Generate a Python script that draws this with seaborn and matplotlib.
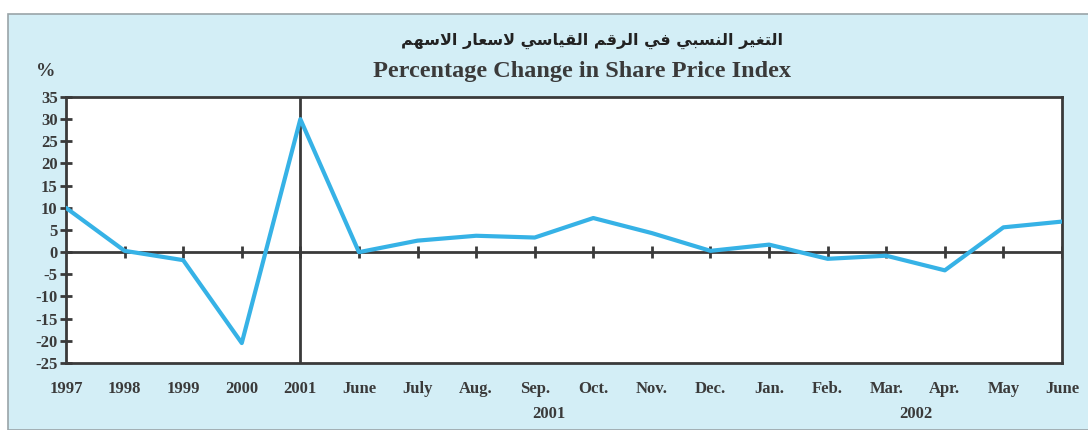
# %% Percentage change in share price index
import matplotlib
matplotlib.use('Agg')
import matplotlib.pyplot as plt
import matplotlib.transforms as mtransforms
from matplotlib.patches import Rectangle
import pandas as pd
import seaborn as sns

# %%
# Values
periods = ['1997', '1998', '1999', '2000', '2001', 'June', 'July', 'Aug.', 'Sep.',
           'Oct.', 'Nov.', 'Dec.', 'Jan.', 'Feb.', 'Mar.', 'Apr.', 'May', 'June']
pct_change = [10, 0.3, -1.8, -20.5, 30, 0, 2.6, 3.7, 3.3,
              7.7, 4.3, 0.3, 1.7, -1.5, -0.8, -4.1, 5.6, 6.9]
y_ticks = list(range(-25, 40, 5))
year_groups = ['2001', '2002']
year_group_pos = [8.25, 14.5]

title_en = 'Percentage Change in Share Price Index'
title_ar = 'التغير النسبي في الرقم القياسي لاسعار الاسهم'

df = pd.DataFrame({'idx': range(len(periods)), 'pct': pct_change})


# %%
# matplotlib has no arabic shaping, so pick presentation forms by hand
FORMS = {
    'ا': ('\uFE8D', '\uFE8E'),
    'ر': ('\uFEAD', '\uFEAE'),
    'ب': ('\uFE8F', '\uFE90', '\uFE91', '\uFE92'),
    'ت': ('\uFE95', '\uFE96', '\uFE97', '\uFE98'),
    'س': ('\uFEB1', '\uFEB2', '\uFEB3', '\uFEB4'),
    'ع': ('\uFEC9', '\uFECA', '\uFECB', '\uFECC'),
    'غ': ('\uFECD', '\uFECE', '\uFECF', '\uFED0'),
    'ف': ('\uFED1', '\uFED2', '\uFED3', '\uFED4'),
    'ق': ('\uFED5', '\uFED6', '\uFED7', '\uFED8'),
    'ل': ('\uFEDD', '\uFEDE', '\uFEDF', '\uFEE0'),
    'م': ('\uFEE1', '\uFEE2', '\uFEE3', '\uFEE4'),
    'ن': ('\uFEE5', '\uFEE6', '\uFEE7', '\uFEE8'),
    'ه': ('\uFEE9', '\uFEEA', '\uFEEB', '\uFEEC'),
    'ي': ('\uFEF1', '\uFEF2', '\uFEF3', '\uFEF4'),
}
LAM_ALEF = ('\uFEFB', '\uFEFC')


def dual(ch):
    return ch in FORMS and len(FORMS[ch]) == 4


def shape_word(word):
    out = []
    i = 0
    while i < len(word):
        ch = word[i]
        prev_joins = i > 0 and dual(word[i - 1])
        if ch == 'ل' and i + 1 < len(word) and word[i + 1] == 'ا':
            out.append(LAM_ALEF[1] if prev_joins else LAM_ALEF[0])
            i += 2
            continue
        forms = FORMS.get(ch)
        if forms is None:
            out.append(ch)
            i += 1
            continue
        next_joins = dual(ch) and i + 1 < len(word) and word[i + 1] in FORMS
        if prev_joins and next_joins:
            out.append(forms[3])
        elif next_joins:
            out.append(forms[2])
        elif prev_joins:
            out.append(forms[1])
        else:
            out.append(forms[0])
        i += 1
    return ''.join(out)


def shape_arabic(text):
    return ' '.join(shape_word(w) for w in text.split(' '))[::-1]


# %%
sns.set_style('white')
plt.rcParams['font.family'] = ['Liberation Serif', 'DejaVu Sans']

dark = '#3a3a3a'
panel = '#d3eef6'
line_col = '#36b2e6'

fig = plt.figure(figsize=(10.88, 4.30), dpi=100)
fig.patch.set_facecolor('white')
fig.patches.append(Rectangle((8 / 1088, 0), 1.0, 1 - 14 / 430, transform=fig.transFigure,
                             facecolor=panel, edgecolor='#9aa4a8', linewidth=1.2, zorder=-5))

ax = fig.add_axes([66 / 1088, 1 - 363 / 430, 996 / 1088, 266 / 430])
ax.set_zorder(2)
ax.set_facecolor('white')

sns.lineplot(data=df, x='idx', y='pct', color=line_col, linewidth=3, ax=ax, zorder=3)

# zero line with its little tick marks, and divider at 2001
ax.axhline(0, color=dark, linewidth=2, zorder=2)
ax.plot(df['idx'][1:], [0] * (len(periods) - 1), linestyle='none', marker='|',
        markersize=9, markeredgewidth=2, color=dark, zorder=2)
ax.axvline(4, color=dark, linewidth=2, zorder=2)

ax.set_xlim(0, len(periods) - 1)
ax.set_ylim(-25, 35)
ax.set_yticks(y_ticks)
ax.set_yticklabels([str(t) for t in y_ticks], fontsize=12, fontweight='bold', color=dark)
ax.set_xticks(df['idx'])
ax.set_xticklabels(periods, fontsize=12, fontweight='bold', color=dark)
ax.tick_params(axis='y', direction='inout', length=8, width=2, color=dark, pad=2, left=True)
ax.tick_params(axis='x', length=0, pad=13)
ax.set_xlabel('')
ax.set_ylabel('')

for side in ax.spines.values():
    side.set_color(dark)
    side.set_linewidth(2)

# year under the month labels
trans = mtransforms.blended_transform_factory(ax.transData, ax.transAxes)
for lbl, pos in zip(year_groups, year_group_pos):
    ax.text(pos, -0.16, lbl, transform=trans, ha='center', va='top',
            fontsize=12, fontweight='bold', color=dark, clip_on=False)

# titles
fig.text(592 / 1088, 1 - 41 / 430, shape_arabic(title_ar), ha='center', va='center',
         fontsize=11.5, fontweight='bold', family=['DejaVu Sans'], color='#222222')
fig.text(582 / 1088, 1 - 72 / 430, title_en, ha='center', va='center',
         fontsize=17.5, fontweight='bold', color=dark)
fig.text(46 / 1088, 1 - 72 / 430, '%', ha='center', va='center',
         fontsize=14, fontweight='bold', color=dark)

fig.savefig('out.png', dpi=100, facecolor=fig.get_facecolor())
